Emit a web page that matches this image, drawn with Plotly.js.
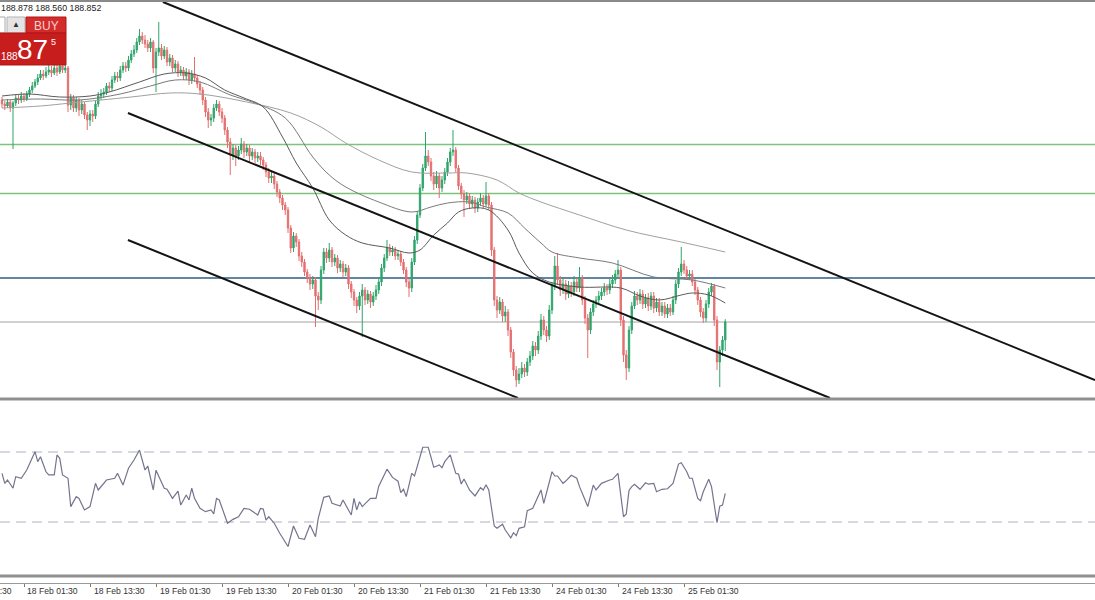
<!DOCTYPE html>
<html>
<head>
<meta charset="utf-8">
<script src="https://cdn.plot.ly/plotly-3.0.1.min.js"></script>
<style>html,body{margin:0;padding:0;background:#fff;}#chart{width:1095px;height:600px;}</style>
</head>
<body>
<div id="chart"></div>
<script>
// ---- M30 bars (bar index 0 = 17 Feb 21:30) ----
const firstOpen = 191.07;
const barClose = [191.03,191.01,191.05,190.99,191.04,191.09,191.07,191.11,191.08,191.13,
191.17,191.21,191.25,191.29,191.33,191.31,191.35,191.37,191.34,191.39,
191.35,191.41,191.37,191.39,191.02,191.09,190.99,191.07,190.97,191.03,
190.92,190.87,190.93,190.91,191.03,191.11,191.13,191.15,191.21,191.19,
191.27,191.31,191.29,191.37,191.41,191.39,191.47,191.53,191.57,191.65,
191.71,191.67,191.63,191.59,191.65,191.39,191.55,191.59,191.51,191.57,
191.45,191.49,191.39,191.43,191.35,191.37,191.31,191.35,191.27,191.33,
191.29,191.23,191.17,191.07,190.95,190.87,190.89,190.99,191.03,190.95,
190.89,190.77,190.65,190.52,190.59,190.51,190.57,190.63,190.55,190.59,
190.51,190.55,190.49,190.51,190.47,190.42,190.35,190.29,190.31,190.23,
190.15,190.09,190.02,189.97,189.79,189.59,189.71,189.65,189.51,189.45,
189.35,189.29,189.23,189.27,189.11,189.07,189.37,189.55,189.49,189.57,
189.45,189.49,189.39,189.43,189.35,189.39,189.23,189.15,189.07,189.01,
189.11,189.17,189.07,189.13,189.05,189.11,189.17,189.25,189.39,189.49,
189.59,189.55,189.57,189.51,189.53,189.45,189.37,189.25,189.19,189.45,
189.67,189.92,190.19,190.39,190.51,190.45,190.31,190.23,190.31,190.19,
190.27,190.35,190.45,190.55,190.57,190.39,190.21,190.13,190.07,190.11,
190.03,190.07,189.99,190.05,190.09,190.03,190.11,190.02,189.57,189.07,
188.97,189.05,188.91,188.95,188.77,188.55,188.37,188.27,188.33,188.39,
188.35,188.45,188.51,188.61,188.57,188.71,188.87,188.77,188.71,188.97,
189.21,189.41,189.27,189.17,189.23,189.13,189.21,189.15,189.25,189.19,
189.29,189.07,188.89,188.77,188.95,189.03,189.07,189.11,189.15,189.19,
189.17,189.23,189.27,189.33,189.37,188.87,188.52,188.39,188.77,189.01,
189.11,189.07,189.13,189.03,189.09,189.01,189.11,188.99,189.05,188.95,
189.01,188.93,188.99,188.95,189.07,189.23,189.35,189.43,189.37,189.31,
189.33,189.25,189.17,189.07,188.95,188.89,189.03,189.15,189.21,188.87,
188.45,188.57,188.67,188.852];
const barHigh = [191.10,191.06,191.08,191.07,191.06,191.12,191.12,191.15,191.14,191.16,
191.20,191.25,191.28,191.33,191.37,191.37,191.40,191.43,191.41,191.45,
191.43,191.46,191.45,191.44,191.41,191.13,191.12,191.10,191.09,191.07,
191.05,190.95,190.97,190.97,191.07,191.15,191.18,191.19,191.24,191.25,
191.31,191.35,191.35,191.41,191.45,191.45,191.51,191.57,191.62,191.69,
191.78,191.75,191.72,191.67,191.69,191.67,191.59,191.85,191.63,191.61,
191.60,191.53,191.52,191.47,191.46,191.41,191.40,191.39,191.38,191.37,
191.50,191.32,191.26,191.20,191.10,190.99,190.93,191.03,191.07,191.06,
190.99,190.92,190.80,190.69,190.63,190.62,190.61,190.69,190.66,190.63,
190.62,190.59,190.58,190.55,190.55,190.50,190.45,190.39,190.35,190.34,
190.26,190.18,190.12,190.05,190.00,189.82,189.75,189.74,189.68,189.55,
189.48,189.38,189.33,189.31,189.30,189.15,189.41,189.59,189.59,189.64,
189.60,189.53,189.52,189.47,189.46,189.43,189.42,189.26,189.18,189.10,
189.15,189.23,189.20,189.17,189.16,189.15,189.22,189.29,189.43,189.53,
189.67,189.63,189.61,189.60,189.57,189.56,189.48,189.40,189.28,189.49,
189.71,189.96,190.23,190.43,190.75,190.57,190.49,190.35,190.36,190.34,
190.31,190.39,190.49,190.59,190.77,190.60,190.42,190.24,190.17,190.15,
190.14,190.11,190.10,190.09,190.14,190.12,190.25,190.14,190.05,189.60,
189.11,189.10,189.08,189.01,188.98,188.80,188.58,188.41,188.39,188.45,
188.43,188.49,188.56,188.66,188.65,188.76,188.93,188.91,188.81,189.02,
189.25,189.51,189.54,189.31,189.29,189.27,189.26,189.25,189.31,189.29,
189.40,189.32,189.11,188.93,188.99,189.07,189.11,189.16,189.19,189.24,
189.23,189.28,189.32,189.37,189.47,189.40,188.91,188.57,188.81,189.05,
189.16,189.15,189.18,189.17,189.13,189.14,189.15,189.15,189.09,189.09,
189.05,189.05,189.03,189.03,189.11,189.27,189.39,189.60,189.47,189.41,
189.37,189.37,189.28,189.20,189.10,188.99,189.07,189.19,189.24,189.23,
188.91,188.61,188.71,188.878];
const barLow = [190.99,190.97,190.99,190.95,190.58,191.01,191.03,191.04,191.05,191.06,
191.10,191.14,191.19,191.22,191.27,191.27,191.29,191.32,191.30,191.32,
191.31,191.33,191.34,191.34,190.95,190.97,190.95,190.95,190.91,190.93,
190.88,190.77,190.81,190.85,190.88,191.00,191.07,191.09,191.12,191.15,
191.16,191.24,191.25,191.26,191.34,191.35,191.36,191.44,191.50,191.54,
191.62,191.63,191.59,191.55,191.55,191.34,191.15,191.51,191.47,191.48,
191.41,191.41,191.35,191.35,191.30,191.31,191.27,191.27,191.22,191.23,
191.25,191.19,191.12,191.02,190.90,190.79,190.81,190.85,190.96,190.91,
190.84,190.72,190.59,190.32,190.47,190.41,190.47,190.53,190.49,190.51,
190.45,190.47,190.44,190.45,190.42,190.37,190.30,190.24,190.24,190.18,
190.10,190.04,189.97,189.92,189.74,189.54,189.55,189.60,189.46,189.40,
189.31,189.24,189.17,189.18,188.80,188.97,189.03,189.33,189.44,189.45,
189.40,189.41,189.34,189.35,189.30,189.31,189.18,189.09,189.01,188.94,
188.97,188.70,189.02,189.03,188.99,189.01,189.07,189.13,189.21,189.35,
189.46,189.51,189.51,189.47,189.47,189.41,189.33,189.20,189.10,189.15,
189.42,189.63,189.89,190.16,190.36,190.41,190.26,190.17,190.19,190.09,
190.15,190.23,190.31,190.41,190.51,190.35,190.17,190.08,189.90,190.03,
189.98,189.99,189.94,189.95,190.01,189.99,190.00,189.97,189.51,189.01,
188.89,188.93,188.85,188.85,188.71,188.49,188.31,188.20,188.23,188.29,
188.30,188.31,188.41,188.47,188.51,188.53,188.67,188.72,188.65,188.67,
188.93,189.17,189.22,189.11,189.13,189.07,189.09,189.10,189.11,189.15,
189.15,189.02,188.83,188.49,188.73,188.91,188.99,189.03,189.07,189.11,
189.12,189.13,189.19,189.23,189.29,188.81,188.45,188.27,188.35,188.73,
188.98,189.02,189.03,188.98,188.99,188.96,188.97,188.94,188.95,188.91,
188.91,188.89,188.89,188.91,188.92,189.03,189.19,189.31,189.33,189.27,
189.27,189.21,189.12,189.02,188.90,188.84,188.85,188.99,189.11,188.81,
188.37,188.20,188.51,188.56];

// ---- moving averages (vertices) ----
const maFastBar = [0,10,21,32,39,50,59,67,74,81,88,95,102,107,113,119,125,131,141,148,152,157,162,166,171,177,184,188,193,199,210,225,232,239,247,251,257,263];
const maFastVal = [191.11,191.13,191.10,191.11,191.15,191.25,191.33,191.34,191.29,191.17,191.09,191.00,190.70,190.44,190.19,189.87,189.72,189.64,189.59,189.54,189.57,189.72,189.84,189.95,189.99,189.97,189.77,189.54,189.34,189.25,189.20,189.19,189.11,189.07,189.12,189.14,189.12,189.04];
const maMidBar = [0,14,28,43,54,63,72,83,92,103,113,119,125,137,149,156,162,170,176,184,190,196,200,210,222,237,251,263];
const maMidVal = [191.07,191.08,191.07,191.13,191.21,191.27,191.25,191.12,191.04,190.89,190.50,190.32,190.20,190.05,189.95,190.00,190.04,190.05,190.00,189.94,189.79,189.64,189.55,189.49,189.44,189.30,189.27,189.19];
const maSlowBar = [0,14,25,47,61,72,89,105,116,125,137,149,162,169,180,188,196,210,227,247,263];
const maSlowVal = [190.99,191.01,191.04,191.10,191.14,191.13,191.05,190.94,190.80,190.64,190.47,190.35,190.34,190.34,190.27,190.14,190.05,189.92,189.77,189.65,189.55];

// ---- oscillator (0..100) ----
const rsiBar = [0,1,2,4,5,7,9,12,13,14,16,17,19,20,21,22,24,25,27,28,30,32,34,35,38,41,42,44,46,48,50,52,53,55,56,57,59,60,62,64,65,67,68,69,70,72,74,76,77,78,79,82,84,86,88,90,93,94,95,96,97,99,101,104,106,108,110,112,114,115,117,119,120,123,124,127,128,129,130,131,134,136,137,140,142,144,145,146,147,149,150,153,155,157,159,160,161,163,165,166,167,168,170,172,174,175,176,177,179,180,182,183,185,186,187,188,190,191,193,196,197,200,201,202,204,205,207,209,210,213,215,216,218,221,222,224,225,226,227,228,229,230,232,234,235,237,238,240,242,244,246,247,249,250,251,253,254,255,257,258,260,261,262,263];
const rsiValue = [57.8,52.1,54,49.3,55.9,55,59.7,70.2,64.5,67.3,58.7,56.9,56.9,68.3,66.4,56.9,55,38.8,44.5,43.5,36.9,38.8,52.1,48.3,54,55,57.8,51.1,60.7,65.4,71.1,59.7,62,48.3,59.6,55.9,49.3,48.7,43.5,47.7,39.7,45.4,42.6,49.3,43.5,37.8,35.9,36.9,34.6,43.5,42.6,29.3,31.5,33,37.8,37.3,34,37.8,37.4,31.1,33,29.3,23.6,16,27.7,20.7,20.1,28.3,21.6,32.1,44.1,44.9,40.7,39.1,42.6,34,43.5,36.9,41.6,38.8,43.5,43.5,50.5,60.2,55.5,53.3,46.8,48.7,44.5,57.8,56.3,72.7,72.7,61.3,62.6,61,64.5,68.3,57.8,57.4,51.7,54.6,48.3,44.9,49.6,48.3,51.3,48.3,27.7,26.4,28.7,25.4,21,23.9,22.2,26.4,27.3,36.5,37.8,48.3,40.7,58.7,56.3,56.3,52.1,53.4,56.7,55,50.2,38.8,51.1,48.3,52.1,54,54.4,57.8,46,33,34.6,48,50.2,51.6,48.7,52.4,51.6,52.1,47.3,48.7,49,52.1,63.1,63.9,58.7,55,55,43.5,42.2,47.3,54.4,50.2,29.6,39.1,39.7,46.4];
const rsiLevels = [70, 30];

// ---- drawn objects ----
const levelPrice = [190.625, 190.135, 189.29, 188.85];
const channelBar0 = [58.5, 45.8, 45.8];
const channelPrice0 = [192.05, 190.94, 189.67];
const channelBar1 = [397.45, 301.1, 187.6];
const channelPrice1 = [188.27, 188.09, 188.09];

// ---- axis labels / header ----
const tickBar = [-16, 8, 32, 56, 80, 104, 128, 152, 176, 200, 224, 248];
const tickText = ['17 Feb 13:30','18 Feb 01:30','18 Feb 13:30','19 Feb 01:30','19 Feb 13:30','20 Feb 01:30','20 Feb 13:30','21 Feb 01:30','21 Feb 13:30','24 Feb 01:30','24 Feb 13:30','25 Feb 01:30'];
const headerText = '188.878 188.560 188.852';
const buyBig = '87', buySmall = '188', buySup = '5';

// ---------------------------------------------------------------
const W = 1095, H = 600, MB = 17, PH = H - MB;
const X0 = -0.727, X1 = 397.45;
const px = x => x / W;
const py = y => 1 - y / PH;
const barOpen = [firstOpen].concat(barClose.slice(0, -1));
const barIndex = barClose.map((_, i) => i);

const FONT = 'Liberation Sans, Arial, sans-serif';

const traces = [
  {type:'scatter', mode:'lines', x:maSlowBar, y:maSlowVal, xaxis:'x', yaxis:'y',
   line:{color:'#a0a0a0', width:1, shape:'spline', smoothing:1}, hoverinfo:'skip', showlegend:false},
  {type:'scatter', mode:'lines', x:maMidBar, y:maMidVal, xaxis:'x', yaxis:'y',
   line:{color:'#7a7a7a', width:1, shape:'spline', smoothing:1}, hoverinfo:'skip', showlegend:false},
  {type:'scatter', mode:'lines', x:maFastBar, y:maFastVal, xaxis:'x', yaxis:'y',
   line:{color:'#5a5a5a', width:1, shape:'spline', smoothing:1}, hoverinfo:'skip', showlegend:false},
  {type:'candlestick', x:barIndex, open:barOpen, high:barHigh, low:barLow, close:barClose,
   xaxis:'x', yaxis:'y', whiskerwidth:0,
   increasing:{line:{color:'#2fa56b', width:1}, fillcolor:'#2fa56b'},
   decreasing:{line:{color:'#e56f6f', width:1}, fillcolor:'#e56f6f'},
   hoverinfo:'skip', showlegend:false},
  {type:'scatter', mode:'lines', x:rsiBar, y:rsiValue, xaxis:'x', yaxis:'y2',
   line:{color:'#74748e', width:1.2}, hoverinfo:'skip', showlegend:false}
];

const shapes = [];
const levelColor = ['#7cc47c', '#7cc47c', '#2b5e85', '#a2a2a2'];
const levelWidth = [1.5, 1.5, 1.6, 1];
levelPrice.forEach((p, i) => shapes.push({type:'line', xref:'paper', yref:'y', x0:0, x1:1, y0:p, y1:p,
  line:{color:levelColor[i], width:levelWidth[i]}, layer:'below'}));
channelBar0.forEach((b, i) => shapes.push({type:'line', xref:'x', yref:'y',
  x0:b, y0:channelPrice0[i], x1:channelBar1[i], y1:channelPrice1[i],
  line:{color:'#141414', width:2}, layer:'above'}));
rsiLevels.forEach(v => shapes.push({type:'line', xref:'paper', yref:'y2', x0:0, x1:1, y0:v, y1:v,
  line:{color:'#aeb0c4', width:1, dash:'10px,6px'}, layer:'below'}));
// panel borders
shapes.push({type:'line', xref:'paper', yref:'paper', x0:0, x1:1, y0:py(1), y1:py(1), line:{color:'#8a8a8a', width:2}});
shapes.push({type:'line', xref:'paper', yref:'paper', x0:0, x1:1, y0:py(399), y1:py(399), line:{color:'#8f8f8f', width:3}});
shapes.push({type:'line', xref:'paper', yref:'paper', x0:0, x1:1, y0:py(576), y1:py(576), line:{color:'#8f8f8f', width:3}});
// trade panel
shapes.push({type:'rect', xref:'paper', yref:'paper', x0:px(-2), x1:px(5), y0:py(33), y1:py(17), fillcolor:'#ffffff', line:{color:'#a9a9a9', width:1}});
shapes.push({type:'rect', xref:'paper', yref:'paper', x0:px(7), x1:px(25), y0:py(33), y1:py(17), fillcolor:'#e4e4e4', line:{color:'#b3b3b3', width:1}});
shapes.push({type:'rect', xref:'paper', yref:'paper', x0:px(26), x1:px(66), y0:py(33), y1:py(17), fillcolor:'#d42b2b', line:{color:'#b01818', width:1}});
shapes.push({type:'rect', xref:'paper', yref:'paper', x0:px(-2), x1:px(66), y0:py(65), y1:py(33), fillcolor:'#c81d1d', line:{color:'#b01818', width:1}});

const annotations = [];
const span = X1 - X0;
tickBar.forEach((b, i) => annotations.push({xref:'paper', yref:'paper', x:(b - X0) / span + 1.5 / W, y:py(591),
  xanchor:'left', yanchor:'middle', showarrow:false, text:tickText[i],
  font:{family:FONT, size:8.6, color:'#333333'}}));
annotations.push({xref:'paper', yref:'paper', x:px(-1.5), y:py(8), xanchor:'left', yanchor:'middle', showarrow:false,
  text:headerText, font:{family:FONT, size:8.8, color:'#222222'}});
annotations.push({xref:'paper', yref:'paper', x:px(16), y:py(25), xanchor:'center', yanchor:'middle', showarrow:false,
  text:'▲', font:{family:FONT, size:8, color:'#333333'}});
annotations.push({xref:'paper', yref:'paper', x:px(46), y:py(25.5), xanchor:'center', yanchor:'middle', showarrow:false,
  text:'BUY', font:{family:FONT, size:12, color:'#f6d0d0'}});
annotations.push({xref:'paper', yref:'paper', x:px(-1), y:py(56), xanchor:'left', yanchor:'middle', showarrow:false,
  text:buySmall, font:{family:FONT, size:10, color:'#ffffff'}});
annotations.push({xref:'paper', yref:'paper', x:px(32), y:py(50), xanchor:'center', yanchor:'middle', showarrow:false,
  text:buyBig, font:{family:FONT, size:28, color:'#ffffff'}});
annotations.push({xref:'paper', yref:'paper', x:px(53), y:py(42), xanchor:'center', yanchor:'middle', showarrow:false,
  text:buySup, font:{family:FONT, size:9, color:'#ffffff'}});

const layout = {
  width:W, height:H,
  margin:{l:0, r:0, t:0, b:MB, pad:0},
  paper_bgcolor:'#ffffff', plot_bgcolor:'#ffffff',
  showlegend:false, hovermode:false, dragmode:false,
  xaxis:{type:'linear', range:[X0, X1], anchor:'free', position:0,
    showgrid:false, zeroline:false, showline:true, linecolor:'#9a9a9a', linewidth:1,
    ticks:'outside', ticklen:3, tickwidth:1, tickcolor:'#7a7a7a',
    tickmode:'array', tickvals:tickBar.slice(1), showticklabels:false,
    rangeslider:{visible:false}, fixedrange:true},
  yaxis:{domain:[1 - 398 / PH, 1], range:[188.09, 192.07], showgrid:false, zeroline:false,
    showticklabels:false, showline:false, ticks:'', fixedrange:true, anchor:'x'},
  yaxis2:{domain:[1 - 574.5 / PH, 1 - 399.5 / PH], range:[0, 100], showgrid:false, zeroline:false,
    showticklabels:false, showline:false, ticks:'', fixedrange:true, anchor:'x'},
  shapes:shapes,
  annotations:annotations
};

Plotly.newPlot('chart', traces, layout, {displayModeBar:false, staticPlot:true});
</script>
</body>
</html>
